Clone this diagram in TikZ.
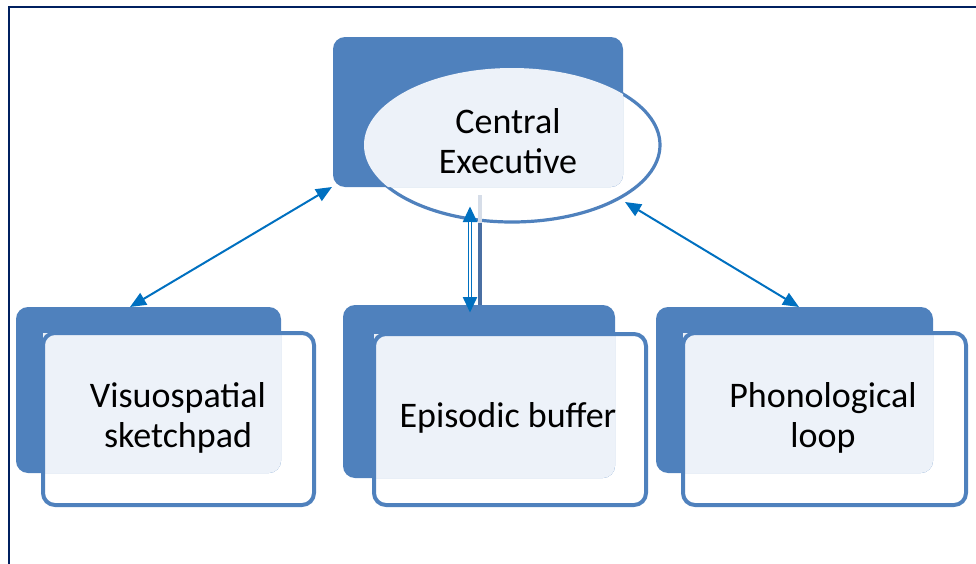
\documentclass[tikz,border=0pt]{standalone}
\usepackage{fontspec}
\setmainfont{Carlito}
\usetikzlibrary{arrows.meta,calc}
\definecolor{darkblue}{HTML}{4F81BD}
\definecolor{lightblue}{HTML}{EDF2F9}
\definecolor{arrowblue}{HTML}{0070C0}
\definecolor{framenavy}{HTML}{002060}
\definecolor{stemdark}{HTML}{4A6FA3}
\definecolor{stemlight}{HTML}{D6DDE8}
\tikzset{
  backbox/.style={fill=darkblue, rounded corners=9pt},
  lightfill/.style={fill=lightblue, rounded corners=9pt},
  frontborder/.style={draw=darkblue, line width=3pt, rounded corners=9pt},
  lbl/.style={align=center, inner sep=0pt, text=black, font=\fontsize{27pt}{30pt}\selectfont},
  conn/.style={draw=arrowblue, line width=1.5pt, {Triangle[length=12pt,width=10pt]}-{Triangle[length=12pt,width=10pt]}},
}
\begin{document}
\begin{tikzpicture}[x=0.75pt,y=-0.75pt]
\useasboundingbox (0,0) rectangle (976,564);
% frame
\draw[framenavy, line width=1.6pt] (9,564) -- (9,6.8) -- (976,6.8);

% ---- Central executive ----
\draw[darkblue, fill=white, line width=2.4pt] (512,145) ellipse [x radius=148, y radius=77];
\fill[backbox] (333,37) rectangle (623,187);
\begin{scope}
  \clip[rounded corners=9pt] (333,37) rectangle (623,187);
  \fill[lightblue] (512,145) ellipse [x radius=148, y radius=77];
\end{scope}
\node[lbl] (ce) at (508,141) {Central\\Executive};

% stem behind buffer
\draw[stemlight, line width=2.6pt] (480,195) -- (480,223);
\draw[stemdark, line width=2.6pt] (480,223) -- (480,306);

% ---- Visuospatial sketchpad ----
\fill[backbox] (16,307) rectangle (281,473);
\begin{scope}
  \clip[rounded corners=9pt] (16,307) rectangle (281,473);
  \fill[lightblue] (43,333) rectangle (314,505);
\end{scope}
\draw[frontborder] (43,333) rectangle (314,505);
\node[lbl] (vs) at (178,418) {Visuospatial\\sketchpad};

% ---- Episodic buffer ----
\fill[backbox] (343,305) rectangle (615,478);
\begin{scope}
  \clip[rounded corners=9pt] (343,305) rectangle (615,478);
  \fill[lightblue] (374,334) rectangle (646,505);
\end{scope}
\draw[frontborder] (374,334) rectangle (646,505);
\node[lbl] (eb) at (508,418) {Episodic buffer};

% ---- Phonological loop ----
\fill[backbox] (656,307) rectangle (933,473);
\begin{scope}
  \clip[rounded corners=9pt] (656,307) rectangle (933,473);
  \fill[lightblue] (683,333) rectangle (966,505);
\end{scope}
\draw[frontborder] (683,333) rectangle (966,505);
\node[lbl] (pl) at (823,418) {Phonological\\loop};

% ---- connectors ----
\coordinate (ceLeft) at (332,187);
\coordinate (vsTop) at (130,307);
\coordinate (ceRight) at (625,202);
\coordinate (plTop) at (799,307);
\coordinate (ceBottom) at (470,206);
\coordinate (ebTop) at (470,313);
\draw[conn] (ceLeft) -- (vsTop);
\draw[conn] (ceRight) -- (plTop);
\draw[conn, line width=3pt] (ceBottom) -- (ebTop);
\draw[white, line width=1.1pt] ($(ceBottom)+(0,16)$) -- ($(ebTop)+(0,-16)$);
\end{tikzpicture}
\end{document}
